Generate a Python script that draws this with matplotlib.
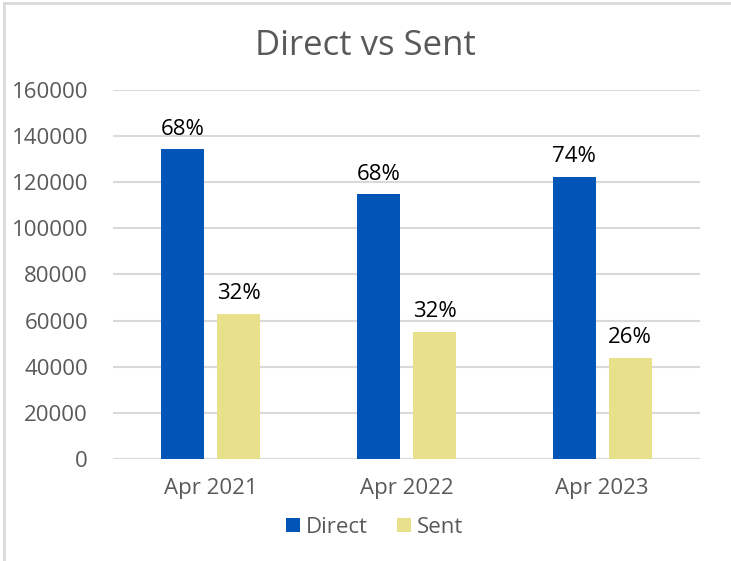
import numpy as np
import matplotlib.pyplot as plt
from matplotlib.lines import Line2D

# data
categories = ["Apr 2021", "Apr 2022", "Apr 2023"]
direct = [134300, 114800, 122400]
sent = [62900, 55100, 43800]
direct_labels = ["68%", "68%", "74%"]
sent_labels = ["32%", "32%", "26%"]

plt.rcParams['font.family'] = ['Open Sans', 'DejaVu Sans']

fig = plt.figure(figsize=(7.31, 5.61), dpi=100)
ax = fig.add_axes([0.1546, 0.1818, 0.803, 0.6578])

x = np.arange(len(categories))
w = 0.22
off = 0.143
b1 = ax.bar(x - off, direct, w, color='#0055B7', label='Direct', zorder=3)
b2 = ax.bar(x + off, sent, w, color='#E8E08A', label='Sent', zorder=3)

ax.bar_label(b1, labels=direct_labels, padding=7, fontsize=16, color='black')
ax.bar_label(b2, labels=sent_labels, padding=7, fontsize=16, color='black')

ax.set_xlim(-0.5, 2.5)
ax.set_ylim(0, 160000)
ax.set_yticks(np.arange(0, 160001, 20000))
ax.set_xticks(x)
ax.set_xticklabels(categories)
ax.tick_params(axis='both', length=0, labelsize=16, labelcolor='#595959')
ax.tick_params(axis='y', pad=18)
ax.tick_params(axis='x', pad=14)
ax.grid(axis='y', color='#D9D9D9', lw=1.5, zorder=0)
for s in ax.spines.values():
    s.set_visible(False)

fig.text(0.5, 0.918, "Direct vs Sent", ha='center', va='center', fontsize=25, color='#595959')

leg = fig.legend(handles=[b1, b2], loc='center', bbox_to_anchor=(0.513, 0.06), ncol=2,
                 frameon=False, fontsize=16, handlelength=0.6, handleheight=0.6,
                 handletextpad=0.3, columnspacing=1.3)
for t in leg.get_texts():
    t.set_color('#595959')

# frame edges of the original chart box
fig.add_artist(Line2D([0.005, 0.005], [0, 0.995], transform=fig.transFigure, color='#D9D9D9', lw=2))
fig.add_artist(Line2D([0.005, 1], [0.995, 0.995], transform=fig.transFigure, color='#D9D9D9', lw=2))

fig.savefig('out.png', dpi=100, facecolor='white')
